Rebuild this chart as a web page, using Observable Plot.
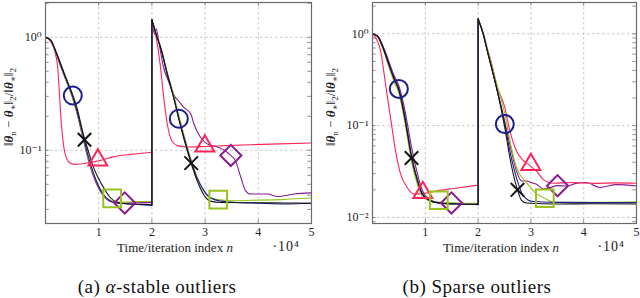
<!DOCTYPE html>
<html>
<head>
<meta charset="utf-8">
<script src="https://cdn.jsdelivr.net/npm/d3@7"></script>
<script src="https://cdn.jsdelivr.net/npm/@observablehq/plot@0.6"></script>
<style>
  body { margin: 0; background: #fff; }
  #wrap { position: relative; width: 640px; height: 298px; overflow: hidden; }
  .panel { position: absolute; top: 0; }
  .cap { position: absolute; top: 276px; width: 320px; text-align: center; line-height: 22px;
         font-family: "Liberation Serif", "DejaVu Serif", serif; font-size: 19px; letter-spacing: 0.5px; color: #111; }
</style>
</head>
<body>
<div id="wrap">
  <div id="pa" class="panel" style="left:0px"></div>
  <div id="pb" class="panel" style="left:320px"></div>
  <div class="cap" style="left:-3px">(a) <i>α</i>-stable outliers</div>
  <div class="cap" style="left:317px">(b) Sparse outliers</div>
</div>
<script>
// ---------- data (x = time/iteration index, y = relative error) ----------
const leftGreen = [[0,1],[1000,0.93],[2000,0.72],[3000,0.53],[4000,0.40],[5000,0.30],[6000,0.21],[7000,0.135],[8000,0.088],[9000,0.062],[10000,0.048],[11000,0.040],[12000,0.0365],[13000,0.0352],[14000,0.0348],[16000,0.035],[18000,0.0352],[20000,0.0353],
  [20000,1.43],[21000,1.0],[21600,0.84],[22900,0.49],[24100,0.31],[25100,0.20],[26000,0.138],[27400,0.082],[28500,0.058],[29800,0.043],[31000,0.038],[32500,0.0366],[35000,0.0358],[40000,0.0362],[45000,0.0368],[50000,0.0378]];
const leftBlue = [[0,1],[1000,0.94],[2000,0.73],[3000,0.54],[4000,0.41],[5000,0.31],[6000,0.215],[7000,0.14],[8000,0.09],[9000,0.063],[10000,0.048],[11000,0.040],[12000,0.036],[13000,0.0345],[14000,0.034],[16000,0.0335],[18000,0.033],[20000,0.0325],
  [20000,1.43],[21000,0.99],[21600,0.82],[22900,0.47],[24100,0.295],[25100,0.19],[26000,0.132],[27400,0.079],[28500,0.057],[29800,0.044],[31000,0.038],[33000,0.0355],[36000,0.0345],[40000,0.034],[45000,0.0335],[50000,0.034]];
const leftBlack = [[0,1],[1000,0.94],[2000,0.74],[3000,0.56],[4000,0.42],[5000,0.32],[6000,0.23],[7000,0.145],[8000,0.10],[9000,0.071],[10000,0.056],[11000,0.046],[12000,0.039],[13000,0.0355],[14000,0.034],[16000,0.0335],[18000,0.0332],[20000,0.033],
  [20000,1.43],[21000,0.99],[21600,0.82],[22900,0.47],[24100,0.29],[25100,0.185],[26000,0.127],[27400,0.076],[28500,0.054],[29800,0.040],[31000,0.0355],[33000,0.0345],[40000,0.0343],[45000,0.0342],[50000,0.034]];
const leftPurple = [[0,1],[1000,0.93],[2000,0.72],[3000,0.53],[4000,0.40],[5000,0.30],[6000,0.205],[7000,0.13],[8000,0.084],[9000,0.059],[10000,0.046],[11000,0.039],[12000,0.0355],[13000,0.0345],[15000,0.0342],[18000,0.0344],[20000,0.0345],
  [20000,1.43],[20500,1.06],[20800,1.19],[21500,0.80],[22200,0.54],[23200,0.40],[24100,0.31],[25100,0.27],[26000,0.24],[27300,0.21],[27900,0.171],[29100,0.131],[30400,0.114],[32300,0.107],[33800,0.099],[34800,0.090],[35700,0.081],[36700,0.058],[37600,0.044],[38500,0.041],[41700,0.041],[43600,0.039],[46700,0.041],[50000,0.042]];
const leftRed = [[0,1],[1000,0.91],[1700,0.76],[2300,0.54],[2600,0.33],[2950,0.18],[3300,0.12],[3600,0.097],[4500,0.078],[5500,0.075],[7000,0.076],[9000,0.079],[11000,0.083],[12500,0.087],[14000,0.09],[16000,0.092],[18000,0.094],[20000,0.096],
  [20000,1.43],[20800,1.0],[21600,0.55],[22200,0.30],[22900,0.17],[23800,0.12],[24800,0.11],[26600,0.107],[30000,0.108],[34000,0.11],[38500,0.112],[44000,0.114],[50000,0.116]];

const rightBlack = [[0,1],[1000,0.93],[2000,0.70],[3000,0.48],[4000,0.33],[5000,0.24],[6000,0.13],[6600,0.083],[7400,0.0445],[8500,0.025],[9400,0.018],[10700,0.0154],[12300,0.0144],[16000,0.014],[20000,0.0139],
  [20000,1.45],[20960,1.0],[21720,0.66],[22540,0.43],[23490,0.26],[25060,0.095],[26010,0.045],[27460,0.020],[28220,0.0154],[29170,0.0144],[35000,0.014],[42000,0.0141],[50000,0.014]];
const rightBlue = [[0,1],[1000,0.94],[2000,0.71],[3000,0.49],[4000,0.34],[5000,0.25],[6000,0.14],[6600,0.088],[7400,0.047],[8500,0.026],[9400,0.0183],[10700,0.0155],[12300,0.0145],[16000,0.014],[20000,0.0139],
  [20000,1.45],[20960,1.0],[21720,0.66],[22540,0.43],[23490,0.26],[25060,0.104],[26010,0.053],[27270,0.027],[28540,0.0173],[30430,0.0149],[35000,0.0146],[42000,0.0145],[50000,0.0145]];
const rightGreen = [[0,1],[1000,0.92],[2000,0.68],[3000,0.45],[4000,0.31],[5000,0.225],[6000,0.12],[6600,0.075],[7400,0.04],[8500,0.023],[9400,0.017],[10700,0.0152],[12300,0.0147],[16000,0.0144],[20000,0.0143],
  [20000,1.45],[20960,1.02],[21720,0.70],[22540,0.47],[23490,0.29],[25060,0.134],[26010,0.069],[27270,0.035],[29170,0.024],[30740,0.0188],[32640,0.0162],[34220,0.0146],[40000,0.0146],[50000,0.0148]];
const rightPurple = [[0,1],[1000,0.94],[2000,0.73],[3000,0.52],[4000,0.36],[5000,0.27],[6000,0.16],[6600,0.105],[7400,0.058],[8500,0.03],[9400,0.02],[10700,0.0158],[12300,0.0146],[14960,0.0142],[20000,0.0138],
  [20000,1.45],[20960,1.0],[21720,0.66],[22540,0.43],[23490,0.26],[25060,0.11],[26010,0.063],[27270,0.032],[28220,0.025],[29170,0.025],[30000,0.024],[31060,0.023],[32330,0.0205],[33500,0.021],[35040,0.0222],[36740,0.022],[38500,0.0235],[40530,0.024],[43050,0.0212],[46210,0.0228],[50000,0.022]];
const rightRed = [[0,1],[890,0.845],[1515,0.66],[2460,0.285],[3410,0.123],[4360,0.053],[5300,0.030],[6570,0.0212],[7820,0.018],[9530,0.0182],[12250,0.0195],[15400,0.0207],[20000,0.0225],
  [20000,1.45],[20960,1.02],[21720,0.70],[22540,0.48],[23490,0.28],[25060,0.158],[26010,0.088],[27270,0.053],[29990,0.036],[31060,0.032],[32330,0.026],[34220,0.0236],[38000,0.024],[42000,0.0235],[46000,0.0238],[50000,0.0236]];

// markers: [series, x, y]
const leftMarkers = [["blue",5130,0.305],["black",7330,0.124],["red",9840,0.082],["green",12530,0.0376],["purple",14900,0.0342],
  ["blue",25060,0.19],["black",27390,0.077],["red",29950,0.109],["green",32470,0.0366],["purple",34840,0.090]];
const rightMarkers = [["blue",4990,0.251],["black",7390,0.0445],["red",9530,0.0187],["green",12560,0.0154],["purple",14960,0.0144],
  ["blue",25060,0.104],["black",27460,0.020],["red",29990,0.0376],["green",32640,0.0162],["purple",35040,0.0222]];

// axes
const xTicks = [10000, 20000, 30000, 40000, 50000];
const leftYDomain = [0.0225, 2.03];
const rightYDomain = [0.0086, 2.19];
const leftYMajor = [1, 0.1];
const rightYMajor = [1, 0.1, 0.01];
const leftYMinor = [0.03,0.04,0.05,0.06,0.07,0.08,0.09,0.2,0.3,0.4,0.5,0.6,0.7,0.8,0.9,2];
const rightYMinor = [0.009,0.02,0.03,0.04,0.05,0.06,0.07,0.08,0.09,0.2,0.3,0.4,0.5,0.6,0.7,0.8,0.9,2];
const xLabelText = "Time/iteration index ";
const xLabelVar = "n";
const xScaleText = "·10⁴";

// ---------- styles ----------
const colors = {blue:"#1d1d8e", black:"#141414", green:"#98c31e", purple:"#8c1a91", red:"#ff2459"};
const symbols = {blue:"circle", black:"times", green:"square", purple:"diamond2", red:"triangle"};
const radii = {blue:9, black:6.2, green:10, purple:9.5, red:7};
const font = '"Liberation Serif", "DejaVu Serif", serif';
const supMap = {"-":"⁻","0":"⁰","1":"¹","2":"²","3":"³"};
const fmtPow = d => "10" + String(Math.round(Math.log10(d))).split("").map(c => supMap[c]).join("");

function toRows(arr) {
  let seg = 1;
  return arr.map((p, i) => {
    if (i > 0 && p[0] === arr[i-1][0]) seg = 2;
    return {x: p[0], y: p[1], seg};
  });
}

function panel(series, markers, yDomain, yMajor, yMinor, mLeft, mRight, yLabelX) {
  const H = 260, mTop = 2, mBottom = 37;
  const innerH = H - mTop - mBottom;
  const k = Math.pow(yDomain[1] / yDomain[0], 4 / innerH);
  const order = ["purple","red","green","blue","black"];
  const marks = [
    Plot.gridX([10000,20000,30000,40000], {stroke:"#c8c8c8", strokeOpacity:1, strokeDasharray:"2.5,2.5"}),
    Plot.gridY(yMajor, {stroke:"#c8c8c8", strokeOpacity:1, strokeDasharray:"2.5,2.5"}),
    Plot.ruleY(yMajor.concat(yMinor), {x1: 0, x2: 700, stroke:"#777", strokeWidth:0.8}),
    Plot.ruleY(yMajor.concat(yMinor), {x1: 49300, x2: 50000, stroke:"#777", strokeWidth:0.8}),
    Plot.ruleX(xTicks.slice(0,4), {y1: yDomain[0], y2: yDomain[0]*k, stroke:"#777", strokeWidth:0.8}),
    Plot.ruleX(xTicks.slice(0,4), {y1: yDomain[1]/k, y2: yDomain[1], stroke:"#777", strokeWidth:0.8}),
  ];
  for (const name of order) {
    const rows = toRows(series[name]);
    marks.push(Plot.line(rows, {x:"x", y:"y", z:"seg", stroke: colors[name], strokeWidth: 1.1, curve:"monotone-x"}));
    marks.push(Plot.line(rows.filter(r => r.x === 20000), {x:"x", y:"y", stroke: colors[name], strokeWidth: 1.1}));
  }
  for (const name of order) {
    marks.push(Plot.dot(markers.filter(m => m[0] === name), {x: m => m[1], y: m => m[2], symbol: symbols[name], r: radii[name], stroke: colors[name], strokeWidth: 2, fill: "none"}));
  }
  marks.push(Plot.frame({stroke:"#6a6a6a", strokeWidth:1.2}));
  marks.push(Plot.axisX(xTicks, {tickFormat: d => d/1e4, tickSize: 0, tickPadding: 4, fontSize: 12, label: null}));
  marks.push(Plot.axisY(yMajor, {tickFormat: fmtPow, tickSize: 0, tickPadding: 4, fontSize: 12, label: null}));

  const svg = Plot.plot({
    width: 320, height: H,
    marginTop: mTop, marginBottom: mBottom, marginLeft: mLeft, marginRight: mRight,
    style: {fontFamily: font, fontSize: "12px", color: "#222", background: "#fff"},
    x: {domain: [0, 50000]},
    y: {type: "log", domain: yDomain},
    marks
  });
  const s = d3.select(svg);
  const cx = mLeft + (320 - mLeft - mRight) / 2;
  // x label
  const xl = s.append("text").attr("x", cx - 3).attr("y", 252).attr("text-anchor", "middle")
    .attr("font-family", font).attr("font-size", 13).attr("fill", "#222");
  xl.append("tspan").text(xLabelText);
  xl.append("tspan").attr("font-style", "italic").text(xLabelVar);
  s.append("text").attr("x", 320 - mRight - 11).attr("y", 251).attr("text-anchor", "end")
    .attr("font-family", font).attr("font-size", 14).attr("letter-spacing", 1).attr("fill", "#222").text(xScaleText);
  // y label
  const yl = s.append("text").attr("transform", `translate(${yLabelX},107) rotate(-90)`)
    .attr("text-anchor", "middle").attr("font-family", font).attr("font-size", 13).attr("fill", "#222");
  const th = () => yl.append("tspan").attr("font-weight", "bold").attr("font-style", "italic").text("θ");
  const sub = t => { yl.append("tspan").attr("dy", 3).attr("font-size", 9).text(t); };
  const txt = (t, dy) => { const e = yl.append("tspan").text(t); if (dy) e.attr("dy", dy); };
  txt("‖"); th(); sub("n"); txt(" − ", -3); th(); sub("∗"); txt("‖", -3); sub("2"); txt("/‖", -3); th(); sub("∗"); txt("‖", -3); sub("2");
  return svg;
}

document.getElementById("pa").appendChild(panel(
  {green:leftGreen, blue:leftBlue, black:leftBlack, purple:leftPurple, red:leftRed},
  leftMarkers, leftYDomain, leftYMajor, leftYMinor, 45, 9, 13));
document.getElementById("pb").appendChild(panel(
  {green:rightGreen, blue:rightBlue, black:rightBlack, purple:rightPurple, red:rightRed},
  rightMarkers, rightYDomain, rightYMajor, rightYMinor, 52, 4, 15));
</script>
</body>
</html>
